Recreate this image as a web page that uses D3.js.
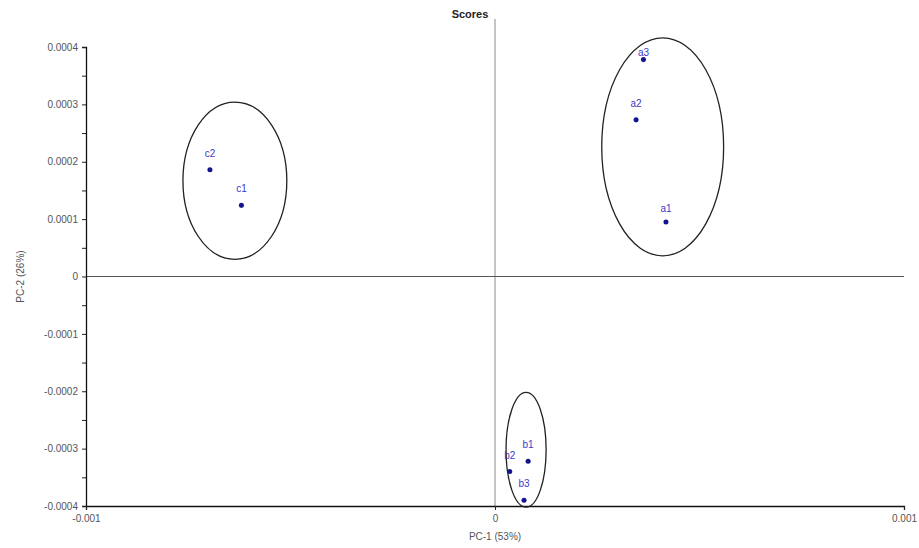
<!DOCTYPE html>
<html lang="en">
<head>
    <meta charset="UTF-8">
    <title>Scores</title>
    <script src="https://d3js.org/d3.v7.min.js"></script>
    <style>
        body { margin: 0; background: white; }
        text { font-family: "Liberation Sans", Arial, sans-serif; }
    </style>
</head>
<body>
    <div id="chart"></div>

    <script>
        var width = 919;
        var height = 548;

        // sample scores
        const names = ["a1", "a2", "a3", "b1", "b2", "b3", "c1", "c2"];
        const pc1 = [0.000418, 0.000345, 0.000363, 0.000081, 0.000036, 0.000071, -0.000620, -0.000697];
        const pc2 = [0.000095, 0.000273, 0.000378, -0.000322, -0.000340, -0.000390, 0.000124, 0.000186];

        // group ellipses (centre and radii, in score units)
        const groups = ["a", "b", "c"];
        const groupCx = [0.000410, 0.000076, -0.000636];
        const groupCy = [0.000226, -0.000302, 0.000167];
        const groupRx = [0.000149, 0.000049, 0.000127];
        const groupRy = [0.000190, 0.000100, 0.000137];

        // tick labels
        const xTicks = [-0.001, 0, 0.001];
        const xTickLabels = ["-0.001", "0", "0.001"];
        const yTicks = [0.0004, 0.0003, 0.0002, 0.0001, 0, -0.0001, -0.0002, -0.0003, -0.0004];
        const yTickLabels = ["0.0004", "0.0003", "0.0002", "0.0001", "0", "-0.0001", "-0.0002", "-0.0003", "-0.0004"];
        const yMinor = [0.00035, 0.00025, 0.00015, 0.00005, -0.00005, -0.00015, -0.00025, -0.00035];

        const svg = d3.select("#chart").append("svg")
            .attr("width", width)
            .attr("height", height);

        var x = d3.scaleLinear().domain([-0.001, 0.001]).range([86, 904]);
        var y = d3.scaleLinear().domain([-0.0004, 0.0004]).range([506, 47]);

        // title
        svg.append("text")
            .attr("x", 470).attr("y", 18)
            .attr("text-anchor", "middle")
            .attr("font-size", 11).attr("font-weight", "bold")
            .attr("fill", "#222")
            .text("Scores");

        // zero lines
        svg.append("line")
            .attr("x1", x(0)).attr("x2", x(0))
            .attr("y1", 19).attr("y2", y(-0.0004))
            .attr("stroke", "#8a8a8a").attr("stroke-width", 1);
        svg.append("line")
            .attr("x1", x(-0.001)).attr("x2", x(0.001))
            .attr("y1", y(0)).attr("y2", y(0))
            .attr("stroke", "#555").attr("stroke-width", 1);

        // axes
        var yAxis = svg.append("g")
            .attr("transform", "translate(" + x(-0.001) + ",0)")
            .call(d3.axisLeft(y).tickValues(yTicks).tickSize(4).tickPadding(4)
                .tickFormat((d, i) => yTickLabels[i]));
        svg.append("g")
            .attr("transform", "translate(" + x(-0.001) + ",0)")
            .call(d3.axisLeft(y).tickValues(yMinor).tickSize(4).tickFormat(""))
            .select(".domain").remove();

        var xAxis = svg.append("g")
            .attr("transform", "translate(0," + y(-0.0004) + ")")
            .call(d3.axisBottom(x).tickValues(xTicks).tickSize(4).tickPadding(5)
                .tickFormat((d, i) => xTickLabels[i]));

        svg.selectAll(".domain").attr("stroke", "#111").attr("stroke-width", 1.3);
        svg.selectAll(".tick line").attr("stroke", "#222");
        svg.selectAll(".tick text")
            .attr("font-family", "'Liberation Sans', Arial, sans-serif")
            .attr("font-size", 10).attr("fill", "#555");

        // axis titles
        svg.append("text")
            .attr("x", x(0)).attr("y", 540)
            .attr("text-anchor", "middle")
            .attr("font-size", 10).attr("fill", "#555")
            .text("PC-1 (53%)");
        svg.append("text")
            .attr("transform", "translate(24," + y(0) + ") rotate(-90)")
            .attr("text-anchor", "middle")
            .attr("font-size", 10).attr("fill", "#555")
            .text("PC-2 (26%)");

        // ellipses
        svg.selectAll("ellipse")
            .data(groups)
            .enter().append("ellipse")
            .attr("cx", (d, i) => x(groupCx[i]))
            .attr("cy", (d, i) => y(groupCy[i]))
            .attr("rx", (d, i) => x(groupCx[i] + groupRx[i]) - x(groupCx[i]))
            .attr("ry", (d, i) => y(groupCy[i]) - y(groupCy[i] + groupRy[i]))
            .attr("fill", "none")
            .attr("stroke", "#222")
            .attr("stroke-width", 1.3);

        // points
        svg.selectAll(".pt")
            .data(names)
            .enter().append("path")
            .attr("class", "pt")
            .attr("d", d3.symbol(d3.symbolCircle, 20))
            .attr("transform", (d, i) => "translate(" + x(pc1[i]) + "," + y(pc2[i]) + ")")
            .attr("fill", "#14148c");

        // labels sit above the point; a couple were nudged by the original software
        var labelLift = { a1: 10, a3: 4 };
        svg.selectAll(".lbl")
            .data(names)
            .enter().append("text")
            .attr("class", "lbl")
            .attr("x", (d, i) => x(pc1[i]))
            .attr("y", (d, i) => y(pc2[i]) - (labelLift[d] !== undefined ? labelLift[d] : 13))
            .attr("text-anchor", "middle")
            .attr("font-size", 10)
            .attr("fill", "#3a3ac8")
            .text(d => d);
    </script>
</body>
</html>
